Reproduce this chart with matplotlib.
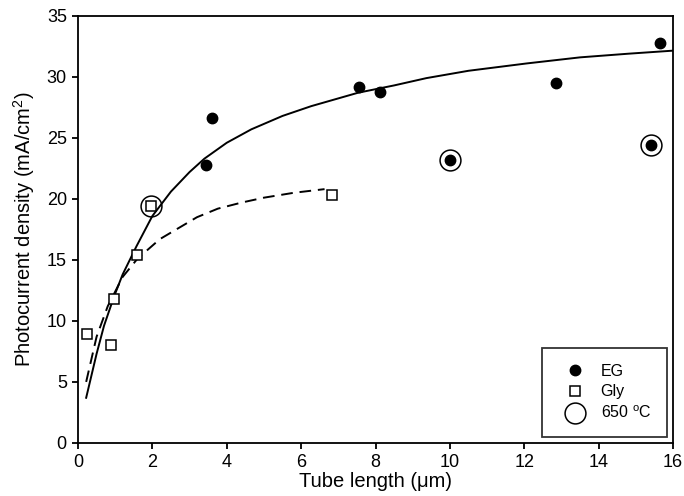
import numpy as np
import matplotlib.pyplot as plt
from matplotlib.lines import Line2D

plt.rcParams['font.family'] = ['Liberation Sans', 'DejaVu Sans']
plt.rcParams['mathtext.fontset'] = 'custom'
plt.rcParams['mathtext.rm'] = 'Liberation Sans'
plt.rcParams['mathtext.default'] = 'regular'

# EG-grown tubes (filled circles)
eg_len = [3.45, 3.6, 7.55, 8.12, 10.0, 12.85, 15.4, 15.65]
eg_j = [22.8, 26.6, 29.2, 28.8, 23.2, 29.5, 24.4, 32.8]

# glycerol-grown tubes (open squares)
gly_len = [0.25, 0.9, 0.97, 1.6, 1.97, 6.83]
gly_j = [8.9, 8.0, 11.8, 15.4, 19.4, 20.3]

# samples annealed at 650 C (ringed)
hot_len = [1.97, 10.0, 15.4]
hot_j = [19.4, 23.2, 24.4]

# fitted trends
eg_fit_x = [0.22, 0.5, 0.7, 0.97, 1.2, 1.57, 2.0, 2.5, 3.0, 3.4, 4.0, 4.66,
            5.5, 6.27, 7.53, 8.5, 9.37, 10.5, 12.06, 13.5, 14.8, 16.0]
eg_fit_y = [3.7, 7.3, 9.6, 12.0, 13.8, 16.1, 18.6, 20.6, 22.2, 23.3, 24.6, 25.7,
            26.8, 27.6, 28.7, 29.3, 29.9, 30.5, 31.1, 31.6, 31.9, 32.15]
gly_fit_x = [0.22, 0.5, 0.8, 1.2, 1.6, 2.2, 2.7, 3.2, 3.76, 4.4, 5.0, 5.8, 6.63]
gly_fit_y = [5.0, 8.7, 11.2, 13.6, 15.1, 16.7, 17.6, 18.5, 19.2, 19.7, 20.1, 20.5, 20.8]

fig = plt.figure(figsize=(6.84, 4.96), dpi=100)
ax = fig.add_axes([0.114, 0.107, 0.87, 0.861])

ax.plot(eg_fit_x, eg_fit_y, color='black', lw=1.4, zorder=2)
ax.plot(gly_fit_x, gly_fit_y, color='black', lw=1.4, dashes=(6, 3.5), zorder=2)
ax.plot(eg_len, eg_j, 'o', ms=7.5, color='black', zorder=3)
ax.plot(gly_len, gly_j, 's', ms=7.5, mfc='white', mec='black', mew=1.1, zorder=3)
ax.plot(hot_len, hot_j, 'o', ms=15, mfc='none', mec='black', mew=1.1, zorder=4)

ax.set_xlim(0, 16)
ax.set_ylim(0, 35)
ax.set_xticks(np.arange(0, 17, 2))
ax.set_yticks(np.arange(0, 36, 5))
ax.tick_params(direction='out', length=4, width=1.3, labelsize=13, pad=4)
for s in ax.spines.values():
    s.set_linewidth(1.3)
ax.set_xlabel('Tube length (\u03bcm)', fontsize=14.5, labelpad=1)
ax.set_ylabel('Photocurrent density (mA/cm$^2$)', fontsize=14.5, labelpad=7)

handles = [
    Line2D([], [], ls='none', marker='o', ms=7.5, color='black'),
    Line2D([], [], ls='none', marker='s', ms=7.5, mfc='white', mec='black', mew=1.1),
    Line2D([], [], ls='none', marker='o', ms=15, mfc='none', mec='black', mew=1.1),
]
leg = ax.legend(handles, ['EG', 'Gly', '650 $^o$C'], loc='lower right',
                fontsize=11.5, frameon=True, fancybox=False, edgecolor='black',
                borderaxespad=0.35, handletextpad=0.5, labelspacing=0.35,
                borderpad=1.0, handlelength=2.2)
leg.get_frame().set_linewidth(1.3)

fig.savefig('out.png', dpi=100)
